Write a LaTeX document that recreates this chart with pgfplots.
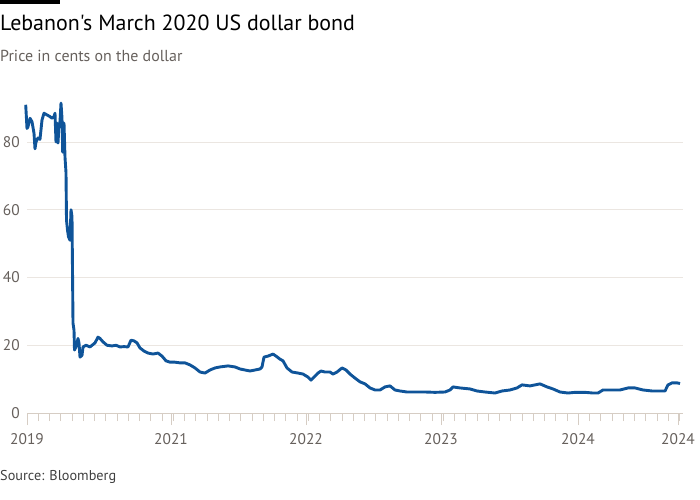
\documentclass[border=0pt]{standalone}
\usepackage{fontspec}
\setmainfont{PT Sans}
\newfontfamily\plainfont{PT Sans}
\usepackage{pgfplots}
\pgfplotsset{compat=1.18}
\definecolor{ftblue}{HTML}{0F5499}
\definecolor{ftgray}{HTML}{66605C}
\definecolor{gridc}{HTML}{EBE6E1}
\definecolor{axisc}{HTML}{D6CDC4}
\begin{document}
\begin{tikzpicture}[x=1bp,y=1bp]
\path[use as bounding box] (0,0) rectangle (700,-500);
\fill[black] (0,0) rectangle (60,-4);
\node[anchor=base west, inner sep=0] at (0,-31) {\plainfont\fontsize{22}{26}\selectfont Lebanon's March 2020 US dollar bond};
\node[anchor=base west, inner sep=0, text=ftgray] at (0,-62) {\fontsize{16}{19}\selectfont Price in cents on the dollar};
\node[anchor=base west, inner sep=0, text=black!75] at (0,-480) {\fontsize{14.3}{17}\selectfont Source: Bloomberg};
\begin{axis}[
  at={(27bp,-413bp)}, anchor=south west,
  scale only axis, width=656bp, height=321.8bp,
  xmin=27, xmax=683, ymin=0, ymax=95,
  axis x line=bottom, axis y line=left,
  y axis line style={draw=none},
  x axis line style={draw=axisc, -, line width=0.8bp},
  xtick={27,171,306,441,578,678},
  xticklabels={2019,2021,2022,2023,2024,2024},
  minor xtick={38.25,49.5,...,683},
  tick align=outside,
  x tick style={draw=axisc, line width=0.8bp},
  major tick length=12bp, minor tick length=8bp,
  ytick={0,20,40,60,80},
  y tick style={draw=none},
  ymajorgrids, grid style={draw=gridc, line width=0.8bp},
  /pgf/number format/assume math mode=true,
  ticklabel style={font=\fontsize{15.5}{18}\selectfont, text=ftgray},
  yticklabel style={anchor=east, inner sep=0pt, xshift=5bp},
  xticklabel style={anchor=north, inner sep=0pt, yshift=-8bp},
  clip=false,
]
\addplot[ftblue, line width=2.9bp, line join=round] coordinates {
(25.7,91)(27,84)(28,84.5)(30,87)(32,86)(34,82.6)(35,78)(36,80)(38,81.2)(40,80.8)(42,86.5)(44,88.5)(47,88)(50,87.5)(52,87)(54,87.5)(55,88.5)(56,80)(57,85.6)(58,79.7)(59,85)(60,86)(61,91.5)(62,87)(62.7,77)(64,85.6)(65,75.5)(66,71)(66.5,57)(67.5,54)(68.5,52)(70,51)(71,60)(72,58)(73,26.5)(74,24.5)(74.5,18.6)(76,19.5)(78,22)(79,20.7)(80,16.5)(82,17)(83,19.5)(86,20)(90,19.5)(95,20.7)(98,22.4)(100,22)(103,21)(107,20)(112,19.8)(116,20)(120,19.5)(124,19.6)(128,19.5)(131,21.5)(134,21.3)(137,20.7)(140,19.2)(144,18.3)(148,17.7)(153,17.4)(158,17.7)(162,16.8)(166,15.4)(170,15)(175,15)(180,14.8)(185,14.8)(190,14.2)(195,13.3)(200,12.1)(205,11.8)(210,12.7)(215,13.3)(220,13.6)(228,13.9)(235,13.6)(240,13)(245,12.7)(250,12.4)(255,12.7)(260,13)(262,13.6)(264,16.5)(268,16.8)(273,17.4)(276,16.8)(280,15.9)(283,15.4)(287,13.3)(292,12.1)(298,11.8)(303,11.5)(308,10.6)(311,9.7)(314,10.6)(318,11.8)(321,12.4)(325,12.1)(330,12.1)(333,11.5)(337,12.1)(342,13.3)(346,12.7)(350,11.5)(355,10.3)(360,9.2)(365,8.6)(370,7.4)(375,6.8)(380,6.8)(385,7.7)(390,8)(395,6.8)(400,6.5)(407,6.2)(415,6.2)(425,6.2)(435,6.1)(445,6.2)(450,6.8)(453,7.7)(460,7.4)(470,7.1)(477,6.5)(485,6.2)(495,5.9)(502,6.5)(510,6.8)(517,7.4)(522,8.3)(530,8)(540,8.6)(547,7.7)(553,7.1)(560,6.2)(568,5.9)(575,6.1)(585,6.1)(593,5.9)(598,5.9)(603,6.8)(610,6.8)(620,6.8)(628,7.4)(635,7.4)(643,6.8)(652,6.5)(665,6.5)(668,8.3)(672,8.9)(677,8.9)(680,8.7)
};
\end{axis}
\end{tikzpicture}
\end{document}
